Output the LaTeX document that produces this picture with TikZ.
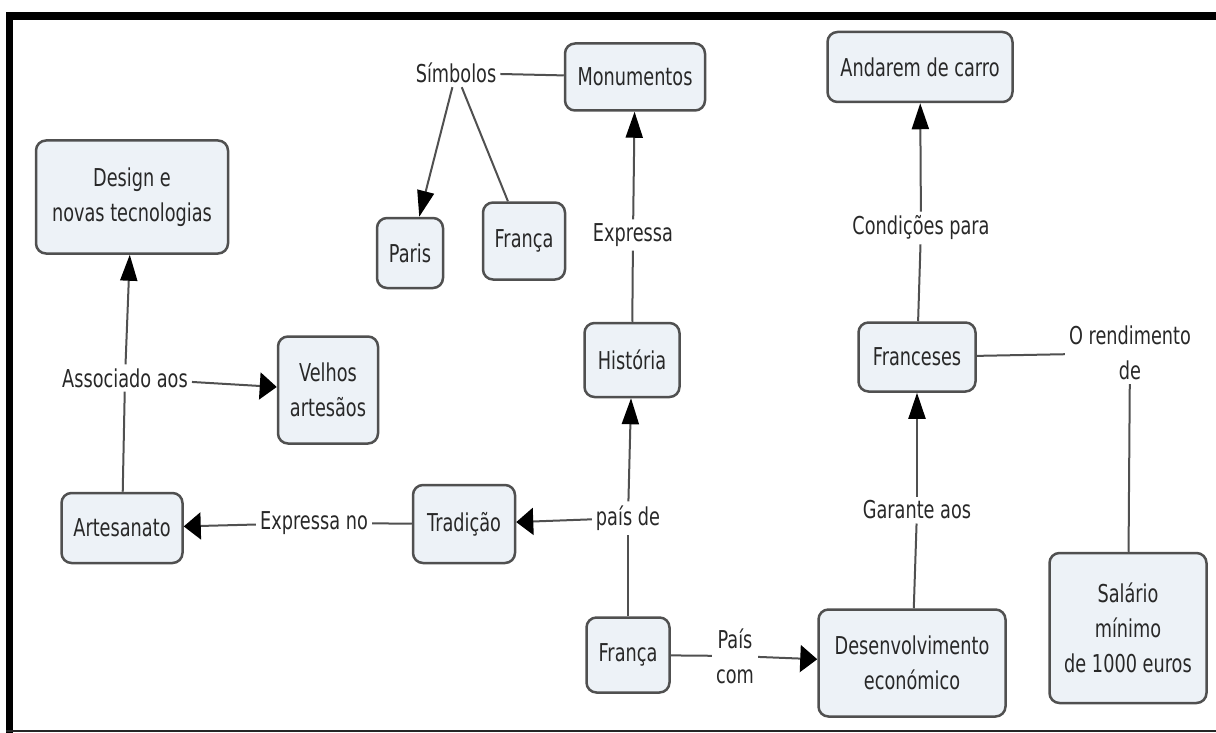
\documentclass[tikz,border=0pt]{standalone}
\usepackage{fontspec}
\setmainfont[FakeStretch=0.72]{DejaVu Sans}
\usetikzlibrary{arrows.meta}
\definecolor{cfill}{RGB}{237,242,247}
\definecolor{cline}{RGB}{80,80,80}
\definecolor{ctext}{RGB}{40,40,40}
\tikzset{
  concept/.style={draw=cline, fill=cfill, line width=2.5pt, rounded corners=10pt,
    align=center, text=ctext, inner sep=2pt},
  linkword/.style={align=center, text=ctext, inner sep=4pt},
  link/.style={draw=cline, line width=2pt},
  uparrow/.style={link, -{Triangle[width=17pt,length=26pt,color=black,fill=black]}},
  sidearrow/.style={link, -{Triangle[width=27pt,length=17pt,color=black,fill=black]}},
}
\begin{document}
\begin{tikzpicture}[x=1pt,y=-1pt,font=\fontsize{24.6}{35}\selectfont]
  \useasboundingbox (0,0) rectangle (1216,733);
  \fill (6,12) rectangle (1216,20);
  \fill (6,12) rectangle (13,733);
  \draw[line width=2pt,black!85] (6,731) -- (1216,731);

  \node[concept,minimum width=192pt,minimum height=113pt] (design) at (132,197) {Design e\\novas tecnologias};
  \node[concept,minimum width=140pt,minimum height=67pt] (monumentos) at (635,77) {Monumentos};
  \node[concept,minimum width=66pt,minimum height=70pt] (paris) at (410,253) {Paris};
  \node[concept,minimum width=82pt,minimum height=77pt] (franca1) at (524,241) {França};
  \node[concept,minimum width=95pt,minimum height=74pt] (historia) at (632,360) {História};
  \node[concept,minimum width=102pt,minimum height=78pt] (tradicao) at (464,524) {Tradição};
  \node[concept,minimum width=83pt,minimum height=75pt] (franca2) at (628,655) {França};
  \node[concept,minimum width=187pt,minimum height=107pt] (desenv) at (912,663) {Desenvolvimento\\económico};
  \node[concept,minimum width=117pt,minimum height=69pt] (franceses) at (917,357) {Franceses};
  \node[concept,minimum width=185pt,minimum height=70pt] (andarem) at (920,67) {Andarem de carro};
  \node[concept,minimum width=157pt,minimum height=150pt] (salario) at (1128,628) {Salário\\mínimo\\de 1000 euros};
  \node[concept,minimum width=100pt,minimum height=107pt] (velhos) at (328,390) {Velhos\\artesãos};
  \node[concept,minimum width=121pt,minimum height=70pt] (artesanato) at (122,528) {Artesanato};

  \node[linkword] (simbolos) at (456,73) {Símbolos};
  \node[linkword] (expressa) at (633,235) {Expressa};
  \node[linkword] (associado) at (125,378) {Associado aos};
  \node[linkword] (expressano) at (314,523) {Expressa no};
  \node[linkword] (paisde) at (628,518) {país de};
  \node[linkword] (paiscom) at (735,656) {País\\com};
  \node[linkword] (garante) at (917,510) {Garante aos};
  \node[linkword] (condicoes) at (921,228) {Condições para};
  \node[linkword] (rendimento) at (1130,353) {O rendimento\\de};

  \draw[link] (simbolos) -- (monumentos);
  \draw[uparrow] (simbolos) -- (paris);
  \draw[link] (simbolos) -- (franca1);
  \draw[link] (historia) -- (expressa);
  \draw[uparrow] (expressa) -- (monumentos);
  \draw[link] (franca2) -- (paisde);
  \draw[uparrow] (paisde) -- (historia);
  \draw[sidearrow] (paisde) -- (tradicao);
  \draw[link] (tradicao) -- (expressano);
  \draw[sidearrow] (expressano) -- (artesanato);
  \draw[link] (artesanato) -- (associado);
  \draw[uparrow] (associado) -- (design);
  \draw[sidearrow] (associado) -- (velhos);
  \draw[link] (franca2) -- (paiscom);
  \draw[sidearrow] (paiscom) -- (desenv);
  \draw[link] (desenv) -- (garante);
  \draw[uparrow] (garante) -- (franceses);
  \draw[link] (franceses) -- (condicoes);
  \draw[uparrow] (condicoes) -- (andarem);
  \draw[link] (franceses) -- (rendimento);
  \draw[link] (rendimento) -- (salario);
\end{tikzpicture}
\end{document}
